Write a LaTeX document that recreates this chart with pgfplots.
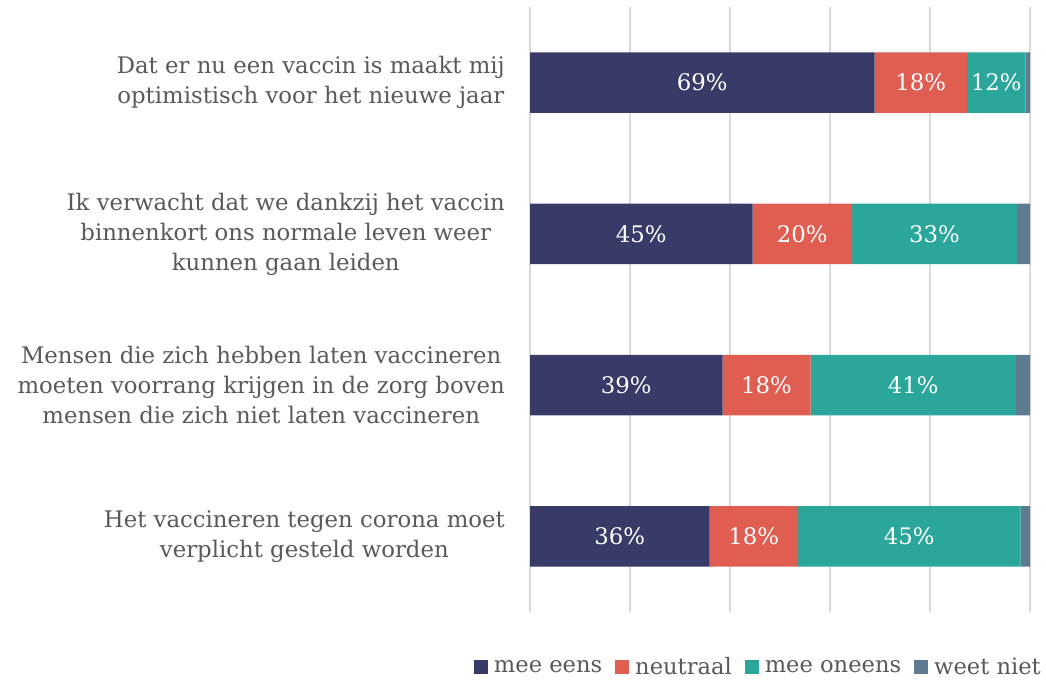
\documentclass[border=0pt]{standalone}
\usepackage{pgfplots}
\pgfplotsset{compat=1.18}
\usepackage{fontspec}
\setmainfont{DejaVu Serif}
\definecolor{navy}{HTML}{383B68}
\definecolor{coral}{HTML}{E05D52}
\definecolor{teal2}{HTML}{2AA69B}
\definecolor{slate}{HTML}{5F7B8F}
\definecolor{txt}{HTML}{595959}
\definecolor{gridc}{HTML}{D9D9D9}

\pgfplotstableread{
y x lab
0 68.9 69\%
1 44.5 45\%
2 38.5 39\%
3 35.9 36\%
}\meeeens
\pgfplotstableread{
y x lab
0 18.5 18\%
1 19.9 20\%
2 17.6 18\%
3 17.7 18\%
}\neutraal
\pgfplotstableread{
y x lab
0 11.7 12\%
1 33.0 33\%
2 41.1 41\%
3 44.5 45\%
}\meeoneens
\pgfplotstableread{
y x lab
0 0.9 1\%
1 2.6 3\%
2 2.8 3\%
3 1.9 2\%
}\weetniet

\begin{document}
\begin{tikzpicture}[x=1pt,y=1pt]
\useasboundingbox (0,0) rectangle (1046,680);
\begin{axis}[
  at={(530pt,68pt)}, anchor=south west,
  scale only axis, width=500pt, height=605pt,
  xbar stacked, bar width=60.5pt,
  xmin=0, xmax=100, ymin=-0.5, ymax=3.5, y dir=reverse,
  xtick={0,20,...,100}, xticklabels={},
  xmajorgrids, major grid style={gridc, line width=1.6pt},
  ytick={0,1,2,3},
  yticklabels={
    {Dat er nu een vaccin is maakt mij\\optimistisch voor het nieuwe jaar},
    {Ik verwacht dat we dankzij het vaccin\\binnenkort ons normale leven weer\\kunnen gaan leiden},
    {Mensen die zich hebben laten vaccineren\\moeten voorrang krijgen in de zorg boven\\mensen die zich niet laten vaccineren},
    {Het vaccineren tegen corona moet\\verplicht gesteld worden}},
  yticklabel style={align=center, font=\fontsize{22.8}{30}\selectfont, text=txt, inner sep=0pt, xshift=-25pt},
  axis line style={draw=none},
  major tick length=0pt,
  point meta=explicit symbolic,
  nodes near coords style={white, font=\fontsize{22.8}{24}\selectfont, anchor=center},
  legend columns=4,
  legend style={at={(1.032,-0.0909)}, anchor=east, draw=none, fill=none,
    font=\fontsize{22.6}{26}\selectfont, text=txt,
    /tikz/every odd column/.append style={column sep=4pt},
    /tikz/every even column/.append style={column sep=11pt},
    nodes={inner sep=2pt}},
  legend image code/.code={\fill[#1,/tikz/.cd] (0pt,-7pt) rectangle (14pt,7pt);},
]
\addplot[fill=navy, draw=none, nodes near coords] table[x=x, y=y, meta=lab] {\meeeens};
\addplot[fill=coral, draw=none, nodes near coords] table[x=x, y=y, meta=lab] {\neutraal};
\addplot[fill=teal2, draw=none, nodes near coords] table[x=x, y=y, meta=lab] {\meeoneens};
\addplot[fill=slate, draw=none] table[x=x, y=y, meta=lab] {\weetniet};
\legend{mee eens, neutraal, mee oneens, weet niet}
\end{axis}
\end{tikzpicture}
\end{document}
